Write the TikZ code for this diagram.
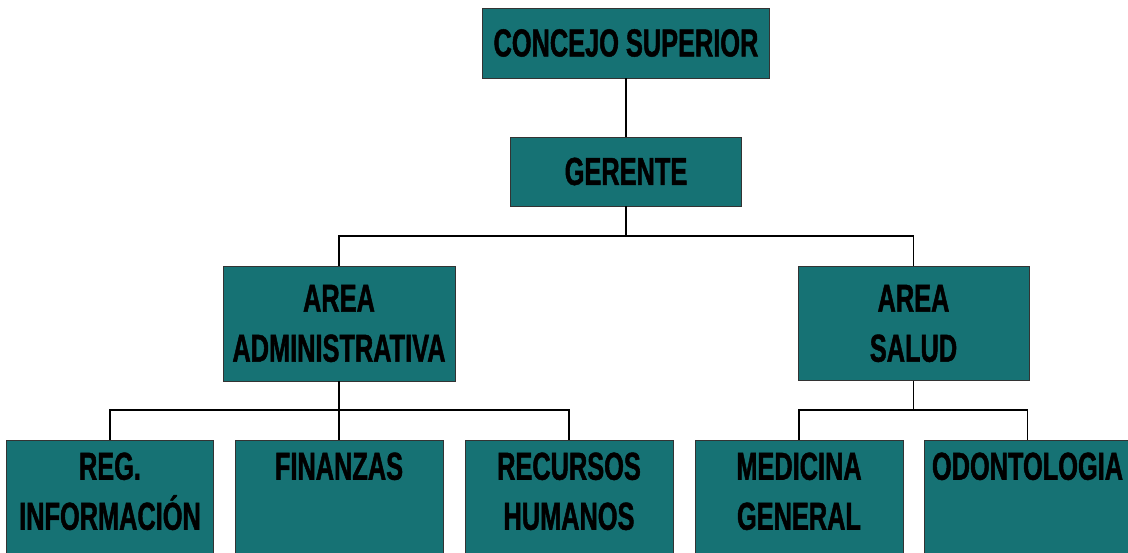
\documentclass[tikz,border=0pt]{standalone}
\usepackage{fontspec}
\usepackage{xcolor}
\usetikzlibrary{positioning}
\newfontfamily\orgfont[FakeStretch=0.65, FakeBold=1.2]{Liberation Sans}
\definecolor{orgteal}{RGB}{22,114,116}

\begin{document}
\begin{tikzpicture}[x=1pt, y=1pt,
    orgbox/.style={draw=black!80, line width=0.8pt, fill=orgteal, inner sep=0pt},
    orgtext/.style={font=\orgfont\bfseries\fontsize{39}{50}\selectfont, align=center, text=black},
    link/.style={draw=black, line width=1.4pt}]
    \useasboundingbox (0,0) rectangle (1128,552);
    \clip (0,0) rectangle (1128,552);

    % top levels
    \node[orgbox, orgtext, minimum width=287pt, minimum height=70pt] (conc) at (626,509) {CONCEJO SUPERIOR};
    \node[orgbox, orgtext, minimum width=231pt, minimum height=69pt] (ger) at (626,380.5) {GERENTE};

    % areas
    \node[orgbox, orgtext, minimum width=232pt, minimum height=115pt] (adm) at (339,228.5) {AREA\\ADMINISTRATIVA};
    \node[orgbox, orgtext, minimum width=231pt, minimum height=114pt] (salud) at (913.5,228.5) {AREA\\SALUD};

    % units (cut off at the bottom)
    \node[orgbox, anchor=north, minimum width=207pt, minimum height=130pt] (reg) at (110,112) {};
    \node[orgbox, anchor=north, minimum width=208pt, minimum height=130pt] (fin) at (339,112) {};
    \node[orgbox, anchor=north, minimum width=208pt, minimum height=130pt] (rrhh) at (569,112) {};
    \node[orgbox, anchor=north, minimum width=208pt, minimum height=130pt] (med) at (799,112) {};
    \node[orgbox, anchor=north, minimum width=207pt, minimum height=130pt] (odo) at (1027.5,112) {};

    \node[orgtext, anchor=north, below=9pt of reg.north] (regT) {REG.\\INFORMACIÓN};
    \node[orgtext, anchor=north, below=9pt of fin.north] (finT) {FINANZAS};
    \node[orgtext, anchor=north, below=9pt of rrhh.north] (rrhhT) {RECURSOS\\HUMANOS};
    \node[orgtext, anchor=north, below=9pt of med.north] (medT) {MEDICINA\\GENERAL};
    \node[orgtext, anchor=north, below=9pt of odo.north] (odoT) {ODONTOLOGIA};

    % connectors
    \coordinate (busG) at (626,316);
    \coordinate (busA) at (339,142);
    \coordinate (busS) at (913.5,142);
    \draw[link] (conc.south) -- (ger.north);
    \draw[link] (ger.south) -- (busG);
    \draw[link] (adm.north) |- (busG) -| (salud.north);
    \draw[link] (adm.south) -- (fin.north);
    \draw[link] (reg.north) |- (busA) -| (rrhh.north);
    \draw[link] (salud.south) -- (busS);
    \draw[link] (med.north) |- (busS) -| (odo.north);
\end{tikzpicture}
\end{document}
